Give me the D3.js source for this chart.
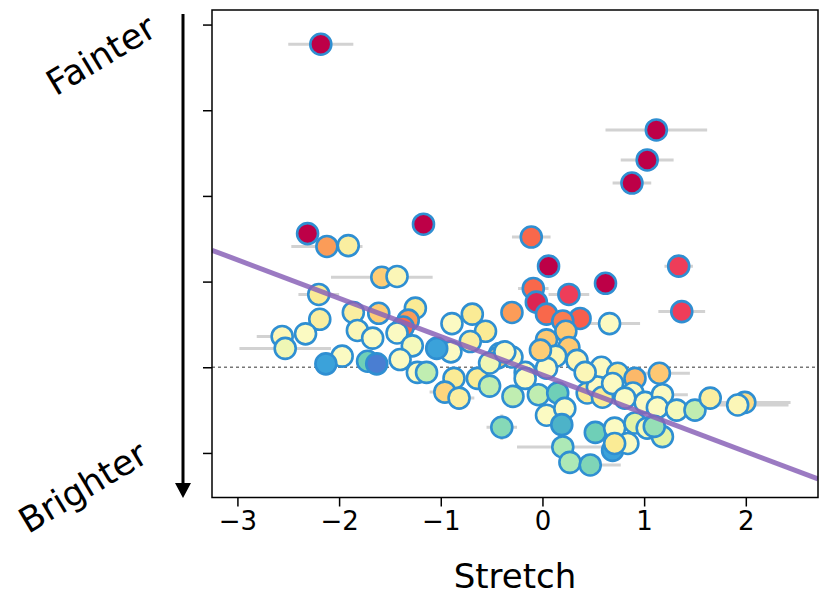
<!DOCTYPE html>
<html><head><meta charset="utf-8">
<script src="https://cdn.jsdelivr.net/npm/d3@7"></script>
<style>html,body{margin:0;padding:0;background:#fff;}svg{display:block;font-family:"DejaVu Sans",sans-serif;}</style>
</head><body>
<script>
// ---- data ----
const stretch = [-2.18,1.12,1.03,0.88,-2.31,-2.12,-1.91,-1.17,-0.11,0.06,0.62,1.34,1.37,-0.09,0.26,-0.06,-0.30,0.04,0.37,0.20,
0.66,0.23,0.04,0.26,0.13,0.34,0.58,0.74,0.91,1.15,0.04,-0.17,-0.30,-0.42,-0.89,-0.69,-0.56,-0.71,-0.90,-0.44,
-1.58,-1.43,-2.20,-2.19,-2.33,-2.56,-2.53,-1.86,-1.82,-1.67,-1.61,-1.25,-1.32,-1.37,-1.43,-1.28,-1.04,-1.97,-2.13,-1.72,
-1.63,-1.40,-1.23,-1.14,-0.87,-0.96,-0.82,-0.64,-0.52,-0.52,-0.40,-0.29,-0.04,0.15,0.04,0.22,0.19,0.20,0.27,0.47,
0.44,0.54,0.59,0.69,0.52,0.71,0.69,0.84,0.71,0.91,1.03,1.18,0.89,1.01,1.18,1.13,1.32,1.50,1.65,1.99,
1.92,1.10,-0.17,-0.37,-0.02,0.81,0.42];
const magDiff = [3.77,2.77,2.42,2.15,1.56,1.41,1.42,1.67,1.52,1.18,0.98,1.18,0.65,0.92,0.85,0.76,0.64,0.62,0.57,0.54,
0.51,0.42,0.32,0.23,0.13,0.08,0.00,-0.07,-0.13,-0.07,-0.01,-0.06,0.12,0.16,0.51,0.62,0.42,0.30,0.18,0.11,
1.05,1.06,0.85,0.56,0.39,0.36,0.22,0.64,0.43,0.34,0.63,0.69,0.55,0.47,0.40,0.25,0.22,0.13,0.04,0.07,
0.04,0.09,-0.06,-0.06,-0.13,-0.29,-0.36,-0.13,-0.22,0.05,-0.70,-0.34,-0.32,-0.30,-0.56,-0.48,-0.67,-0.93,-1.11,-1.14,
-0.30,-0.23,-0.35,-0.19,-0.76,-0.71,-0.97,-0.89,-0.89,-0.65,-0.71,-0.81,-0.30,-0.41,-0.32,-0.47,-0.50,-0.50,-0.36,-0.41,
-0.44,-0.69,-0.13,0.18,0.20,-0.36,-0.06];
const colorVal = [1.00,1.00,1.00,1.00,1.00,0.75,0.56,1.00,0.83,1.00,1.00,0.92,0.92,0.83,0.92,0.95,0.75,0.83,0.85,0.80,
0.50,0.67,0.67,0.67,0.52,0.52,0.50,0.58,0.70,0.67,0.50,0.50,0.50,0.50,0.50,0.58,0.58,0.56,0.50,0.67,
0.66,0.52,0.58,0.56,0.50,0.52,0.46,0.56,0.52,0.50,0.66,0.58,0.75,0.83,0.50,0.48,0.08,0.50,0.08,0.25,
0.00,0.50,0.50,0.36,0.58,0.64,0.56,0.58,0.36,0.46,0.28,0.36,0.36,0.25,0.50,0.50,0.17,0.33,0.33,0.27,
0.58,0.50,0.58,0.50,0.25,0.50,0.08,0.50,0.58,0.42,0.48,0.42,0.50,0.50,0.50,0.50,0.48,0.36,0.56,0.62,
0.52,0.30,0.50,0.50,0.66,0.50,0.52];
const xErr = [0.32,0.50,0.26,0.19,0,0.35,0,0,0.19,0,0,0.14,0.23,0.15,0.20,0,0,0,0,0,
0.30,0,0,0,0,0,0,0,0,0.30,0,0,0,0,0,0,0,0,0,0,
0.50,0,0.20,0,0,0.25,0.45,0,0,0,0,0,0,0,0,0,0,0,0,0,
0,0,0,0,0,0.15,0.15,0,0,0,0.15,0,0,0,0,0,0,0.45,0,0.30,
0,0,0,0,0,0,0,0,0,0,0,0,0,0,0.25,0,0,0,0,0.45,
0.50,0,0,0,0,0,0];
const yErr = [0,0.12,0,0,0,0,0,0,0,0,0,0,0,0,0,0,0,0,0,0,
0,0,0,0,0,0,0,0,0,0,0,0,0,0,0,0,0,0,0,0,
0,0,0,0,0,0,0,0.12,0,0,0,0,0,0,0,0,0,0,0,0,
0.12,0,0,0,0,0,0,0,0,0,0.15,0,0,0,0,0,0,0,0,0,
0,0,0,0,0,0,0,0,0,0,0,0,0,0,0,0,0,0,0,0,
0,0,0,0,0,0,0];
const xTicks = [-3,-2,-1,0,1,2];
const yTicks = [-1,0,1,2,3,4];
const fitSlope = -0.448, fitIntercept = -0.09;
const palette = ["#4a7ed2","#3aa3da","#4cb2c9","#6fcfb7","#b0eab6","#e2f4a6","#fbfac2","#faea93","#fdca74","#fb9c58","#f9664a","#f0405a","#bd0047"];

const W = 826, H = 595;
const svg = d3.select("body").append("svg").attr("width", W).attr("height", H);
const L = 212, R = 818, T = 10, B = 497.5;
const x = d3.scaleLinear().domain([-3.25, 2.71]).range([L, R]);
const y = d3.scaleLinear().domain([-1.52, 4.17]).range([B, T]);
const col = d3.scaleLinear().domain(palette.map((_, i) => i / (palette.length - 1))).range(palette);

svg.append("defs").append("clipPath").attr("id", "clip")
  .append("rect").attr("x", L).attr("y", T).attr("width", R - L).attr("height", B - T);

const data = stretch.map((s, i) => ({x: s, y: magDiff[i], c: colorVal[i], xe: xErr[i], ye: yErr[i]}));
const g = svg.append("g").attr("clip-path", "url(#clip)");

// error bars
g.selectAll("line.xe").data(data.filter(d => d.xe > 0)).join("line")
  .attr("x1", d => x(d.x - d.xe)).attr("x2", d => x(d.x + d.xe))
  .attr("y1", d => y(d.y)).attr("y2", d => y(d.y))
  .attr("stroke", "#d2d2d2").attr("stroke-width", 3);
g.selectAll("line.ye").data(data.filter(d => d.ye > 0)).join("line")
  .attr("x1", d => x(d.x)).attr("x2", d => x(d.x))
  .attr("y1", d => y(d.y - d.ye)).attr("y2", d => y(d.y + d.ye))
  .attr("stroke", "#d2d2d2").attr("stroke-width", 3);

// dashed zero line
g.append("line").attr("x1", L).attr("x2", R).attr("y1", y(0)).attr("y2", y(0))
  .attr("stroke", "#777").attr("stroke-width", 1.5).attr("stroke-dasharray", "3,3");

// points
g.selectAll("circle").data(data).join("circle")
  .attr("cx", d => x(d.x)).attr("cy", d => y(d.y)).attr("r", 10.5)
  .attr("fill", d => col(d.c)).attr("stroke", "#2f8fd2").attr("stroke-width", 2.6);

// fit line
const xd = x.domain();
g.append("line")
  .attr("x1", x(xd[0])).attr("y1", y(fitIntercept + fitSlope * xd[0]))
  .attr("x2", x(xd[1])).attr("y2", y(fitIntercept + fitSlope * xd[1]))
  .attr("stroke", "#8a63b7").attr("stroke-opacity", 0.85).attr("stroke-width", 5);

// axes
const xAxis = svg.append("g").attr("transform", `translate(0,${B})`)
  .call(d3.axisBottom(x).tickValues(xTicks).tickSize(9).tickPadding(5).tickFormat(d => d < 0 ? "\u2212" + Math.abs(d) : d));
xAxis.select(".domain").remove();
xAxis.selectAll("line").attr("stroke", "#000").attr("stroke-width", 1.5);
xAxis.selectAll("text").attr("font-size", 26).attr("font-family", "DejaVu Sans").attr("fill", "#000");

const yAxis = svg.append("g").attr("transform", `translate(${L},0)`)
  .call(d3.axisLeft(y).tickValues(yTicks).tickSize(9).tickFormat(""));
yAxis.select(".domain").remove();
yAxis.selectAll("line").attr("stroke", "#000").attr("stroke-width", 1.5);

svg.append("rect").attr("x", L).attr("y", T).attr("width", R - L).attr("height", B - T)
  .attr("fill", "none").attr("stroke", "#000").attr("stroke-width", 1.5);

svg.append("text").attr("x", 515).attr("y", 588).attr("text-anchor", "middle")
  .attr("font-size", 34).attr("fill", "#000").text("Stretch");

// arrow
svg.append("line").attr("x1", 183).attr("x2", 183).attr("y1", 14).attr("y2", 484)
  .attr("stroke", "#000").attr("stroke-width", 3);
svg.append("path").attr("d", "M175,483 L191,483 L183,498 Z").attr("fill", "#000");

svg.append("text").attr("transform", "translate(102,57) rotate(-31)").attr("text-anchor", "middle")
  .attr("dominant-baseline", "middle").attr("font-size", 35).attr("fill", "#000").text("Fainter");
svg.append("text").attr("transform", "translate(84,489) rotate(-31)").attr("text-anchor", "middle")
  .attr("dominant-baseline", "middle").attr("font-size", 35).attr("fill", "#000").text("Brighter");
</script>
</body></html>
